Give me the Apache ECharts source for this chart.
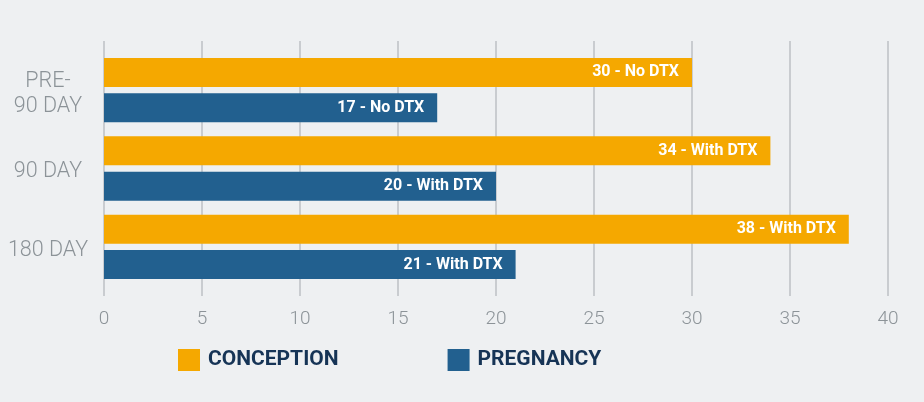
<!DOCTYPE html>
<html>
<head>
<meta charset="utf-8">
<script src="https://cdn.jsdelivr.net/npm/echarts@6/dist/echarts.min.js"></script>
<style>
  html, body { margin: 0; padding: 0; background: #eef0f2; }
  #main { width: 924px; height: 402px; }
</style>
</head>
<body>
<div id="main"></div>
<script>
var categories = ['PRE-\n90 DAY', '90 DAY', '180 DAY'];
var conception = [30, 34, 38];
var pregnancy = [17, 20, 21];
var conceptionLabels = ['30 - No DTX', '34 - With DTX', '38 - With DTX'];
var pregnancyLabels = ['17 - No DTX', '20 - With DTX', '21 - With DTX'];
var xTicks = [0, 5, 10, 15, 20, 25, 30, 35, 40];

var chart = echarts.init(document.getElementById('main'));

var labelOpt = function (names) {
  return {
    show: true,
    position: 'insideRight',
    distance: 13,
    color: '#fff',
    fontFamily: 'Roboto',
    fontWeight: 'bold',
    fontSize: 16,
    formatter: function (p) { return names[p.dataIndex]; }
  };
};

var option = {
  backgroundColor: '#eef0f2',
  color: ['#f5a800', '#22608f'],
  legend: {
    left: 178,
    top: 349,
    padding: 0,
    itemWidth: 22,
    itemHeight: 22,
    itemGap: 109,
    icon: 'rect',
    textStyle: {
      color: '#163456',
      fontFamily: 'Roboto',
      fontWeight: 'bold',
      fontSize: 21,
      padding: [0, 0, 0, 3]
    },
    data: ['CONCEPTION', 'PREGNANCY']
  },
  grid: [
    { left: 104, right: 36, top: 41, bottom: 106 },
    { left: 104, right: 36, top: 51, bottom: 116 }
  ],
  xAxis: [
    {
      gridIndex: 0,
      type: 'value',
      min: 0,
      max: 40,
      interval: 5,
      axisLine: { show: false },
      axisTick: { show: false },
      splitLine: { show: true, lineStyle: { color: '#c9ccd0', width: 2 } },
      axisLabel: {
        color: '#8c9398',
        fontFamily: 'Roboto',
        fontWeight: 300,
        fontSize: 19,
        margin: 14,
        formatter: function (v) { return xTicks.indexOf(v) >= 0 ? String(v) : ''; }
      }
    },
    {
      gridIndex: 1,
      type: 'value',
      min: 0,
      max: 40,
      show: false,
      splitLine: { show: false }
    }
  ],
  yAxis: [
    {
      gridIndex: 0,
      type: 'category',
      data: categories,
      show: false
    },
    {
      gridIndex: 1,
      type: 'category',
      inverse: true,
      data: categories,
      axisLine: { show: false },
      axisTick: { show: false },
      axisLabel: {
        color: '#8c9398',
        fontFamily: 'Roboto',
        fontWeight: 300,
        fontSize: 21.5,
        align: 'center',
        verticalAlign: 'middle',
        margin: 56,
        formatter: function (v) {
          return v.split('\n').map(function (s) { return '{a|' + s + '}'; }).join('\n');
        },
        rich: {
          a: {
            color: '#8c9398',
            fontFamily: 'Roboto',
            fontWeight: 300,
            fontSize: 21.5,
            lineHeight: 25,
            padding: [7, 0, 0, 0]
          }
        }
      }
    }
  ],
  series: [
    {
      name: 'CONCEPTION',
      type: 'bar',
      xAxisIndex: 1,
      yAxisIndex: 1,
      barWidth: 29,
      barGap: '22%',
      data: conception,
      label: labelOpt(conceptionLabels)
    },
    {
      name: 'PREGNANCY',
      type: 'bar',
      xAxisIndex: 1,
      yAxisIndex: 1,
      barWidth: 29,
      barGap: '22%',
      data: pregnancy,
      label: labelOpt(pregnancyLabels)
    }
  ]
};

chart.setOption(option);
</script>
</body>
</html>
